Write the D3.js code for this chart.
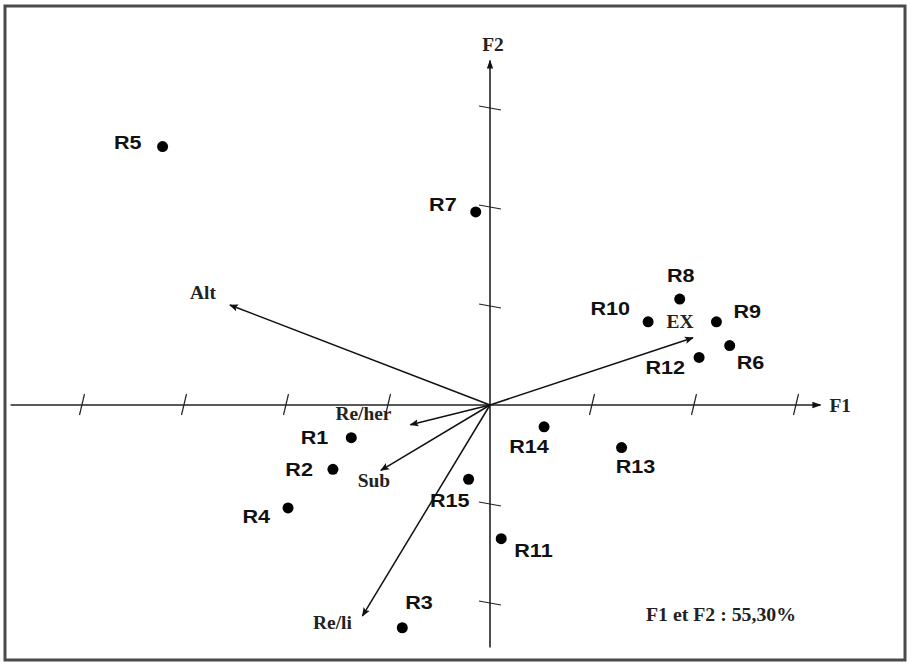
<!DOCTYPE html>
<html><head><meta charset="utf-8">
<script src="https://cdn.jsdelivr.net/npm/d3@7"></script>
<style>
html,body{margin:0;padding:0;background:#fff;}
svg{display:block;}
.pl{font-family:"Liberation Sans",Arial,sans-serif;font-weight:bold;font-size:18px;fill:#111;}
.vl{font-family:"Liberation Serif","Times New Roman",serif;font-weight:bold;font-size:18px;fill:#222;}
</style></head>
<body>
<script>
// Individuals (F1, F2 coordinates, in axis tick units)
const pointNames = ["R1","R2","R3","R4","R5","R6","R7","R8","R9","R10","R11","R12","R13","R14","R15"];
const pointF1 = [-1.36,-1.54,-0.86,-1.98,-3.21,2.35,-0.14,1.86,2.22,1.55,0.11,2.05,1.29,0.53,-0.21];
const pointF2 = [-0.33,-0.65,-2.25,-1.04,2.61,0.60,1.95,1.07,0.84,0.84,-1.35,0.48,-0.43,-0.22,-0.75];
// Variables (arrows)
const varNames = ["Alt","Re/her","Sub","Re/li","EX"];
const varF1 = [-2.55,-0.78,-1.07,-1.25,1.99];
const varF2 = [1.01,-0.20,-0.66,-2.13,0.68];
// Axis ticks
const xTicks = [-4,-3,-2,-1,1,2,3];
const yTicks = [-2,-1,1,2,3];
const xAxisExtent = [-4.7,3.24];
const yAxisExtent = [-2.45,3.48];
const axisLabels = ["F1","F2"];
const inertiaText = "F1 et F2 : 55,30%";

// label layout (style only): [dx, dy, anchor]
const pointLabelPos = {
  R1:[-23,0,"end"], R2:[-20,0,"end"], R3:[3,-25,"start"], R4:[-18,9,"end"],
  R5:[-21,-4,"end"], R6:[7,17,"start"], R7:[-19,-7,"end"], R8:[1,-23,"middle"],
  R9:[17,-10,"start"], R10:[-18,-13,"end"], R11:[13,12,"start"], R12:[-14,10,"end"],
  R13:[14,19,"middle"], R14:[-15,20,"middle"], R15:[1,21,"end"]
};
const varLabelPos = {
  "Alt":[-27,-12], "Re/her":[-47,-11], "Sub":[-7,10], "Re/li":[-30,7], "EX":[-13,-16]
};

const W=911,H=668, SXP=1.2, SXV=1.08;
const x = d3.scaleLinear().domain([-4,3]).range([82,796]);
const y = d3.scaleLinear().domain([-2,3]).range([603,108]);

const svg = d3.select("body").append("svg").attr("width",W).attr("height",H);

const defs = svg.append("defs");
defs.append("marker").attr("id","ah").attr("viewBox","0 0 10 10").attr("refX",9).attr("refY",5)
  .attr("markerWidth",9).attr("markerHeight",9).attr("markerUnits","userSpaceOnUse").attr("orient","auto")
  .append("path").attr("d","M0,1 L10,5 L0,9 L2,5 Z").attr("fill","#111");
defs.append("marker").attr("id","axh").attr("viewBox","0 0 10 10").attr("refX",9).attr("refY",5)
  .attr("markerWidth",9).attr("markerHeight",9).attr("markerUnits","userSpaceOnUse").attr("orient","auto")
  .append("path").attr("d","M0,1.5 L10,5 L0,8.5 Z").attr("fill","#111");

// frame
svg.append("rect").attr("x",5).attr("y",6).attr("width",900).attr("height",654)
  .attr("fill","none").attr("stroke","#4a4a4a").attr("stroke-width",3);

function txt(str, px, py, anchor, cls, sx){
  return svg.append("text").attr("class",cls)
    .attr("transform",`translate(${px},${py}) scale(${sx},1)`)
    .attr("text-anchor",anchor).attr("dy","0.35em").text(str);
}

// axes
svg.append("line").attr("x1",x(xAxisExtent[0])).attr("x2",x(xAxisExtent[1]))
  .attr("y1",y(0)).attr("y2",y(0)).attr("stroke","#222").attr("stroke-width",1.6).attr("marker-end","url(#axh)");
svg.append("line").attr("x1",x(0)).attr("x2",x(0))
  .attr("y1",y(yAxisExtent[0])).attr("y2",y(yAxisExtent[1])).attr("stroke","#222").attr("stroke-width",1.6).attr("marker-end","url(#axh)");

svg.selectAll(".xt").data(xTicks).enter().append("line")
  .attr("x1",d=>x(d)-2.5).attr("y1",y(0)+10).attr("x2",d=>x(d)+2.5).attr("y2",y(0)-11)
  .attr("stroke","#222").attr("stroke-width",1.2);
svg.selectAll(".yt").data(yTicks).enter().append("line")
  .attr("x1",x(0)-11).attr("y1",d=>y(d)-2).attr("x2",x(0)+11).attr("y2",d=>y(d)+2)
  .attr("stroke","#222").attr("stroke-width",1.2);

txt(axisLabels[0], x(xAxisExtent[1])+9, y(0)+1, "start", "vl", SXV);
txt(axisLabels[1], x(0)+3, y(yAxisExtent[1])-16, "middle", "vl", SXV);

// variable arrows
varNames.forEach((n,i)=>{
  svg.append("line").attr("x1",x(0)).attr("y1",y(0)).attr("x2",x(varF1[i])).attr("y2",y(varF2[i]))
    .attr("stroke","#111").attr("stroke-width",1.5).attr("marker-end","url(#ah)");
  const o = varLabelPos[n];
  txt(n, x(varF1[i])+o[0], y(varF2[i])+o[1], "middle", "vl", SXV);
});

// points
pointNames.forEach((n,i)=>{
  svg.append("circle").attr("cx",x(pointF1[i])).attr("cy",y(pointF2[i])).attr("r",5.5).attr("fill","#000");
  const o = pointLabelPos[n];
  txt(n, x(pointF1[i])+o[0], y(pointF2[i])+o[1], o[2], "pl", SXP);
});

txt(inertiaText, 646, 615, "start", "vl", 1.1);
</script>
</body></html>
